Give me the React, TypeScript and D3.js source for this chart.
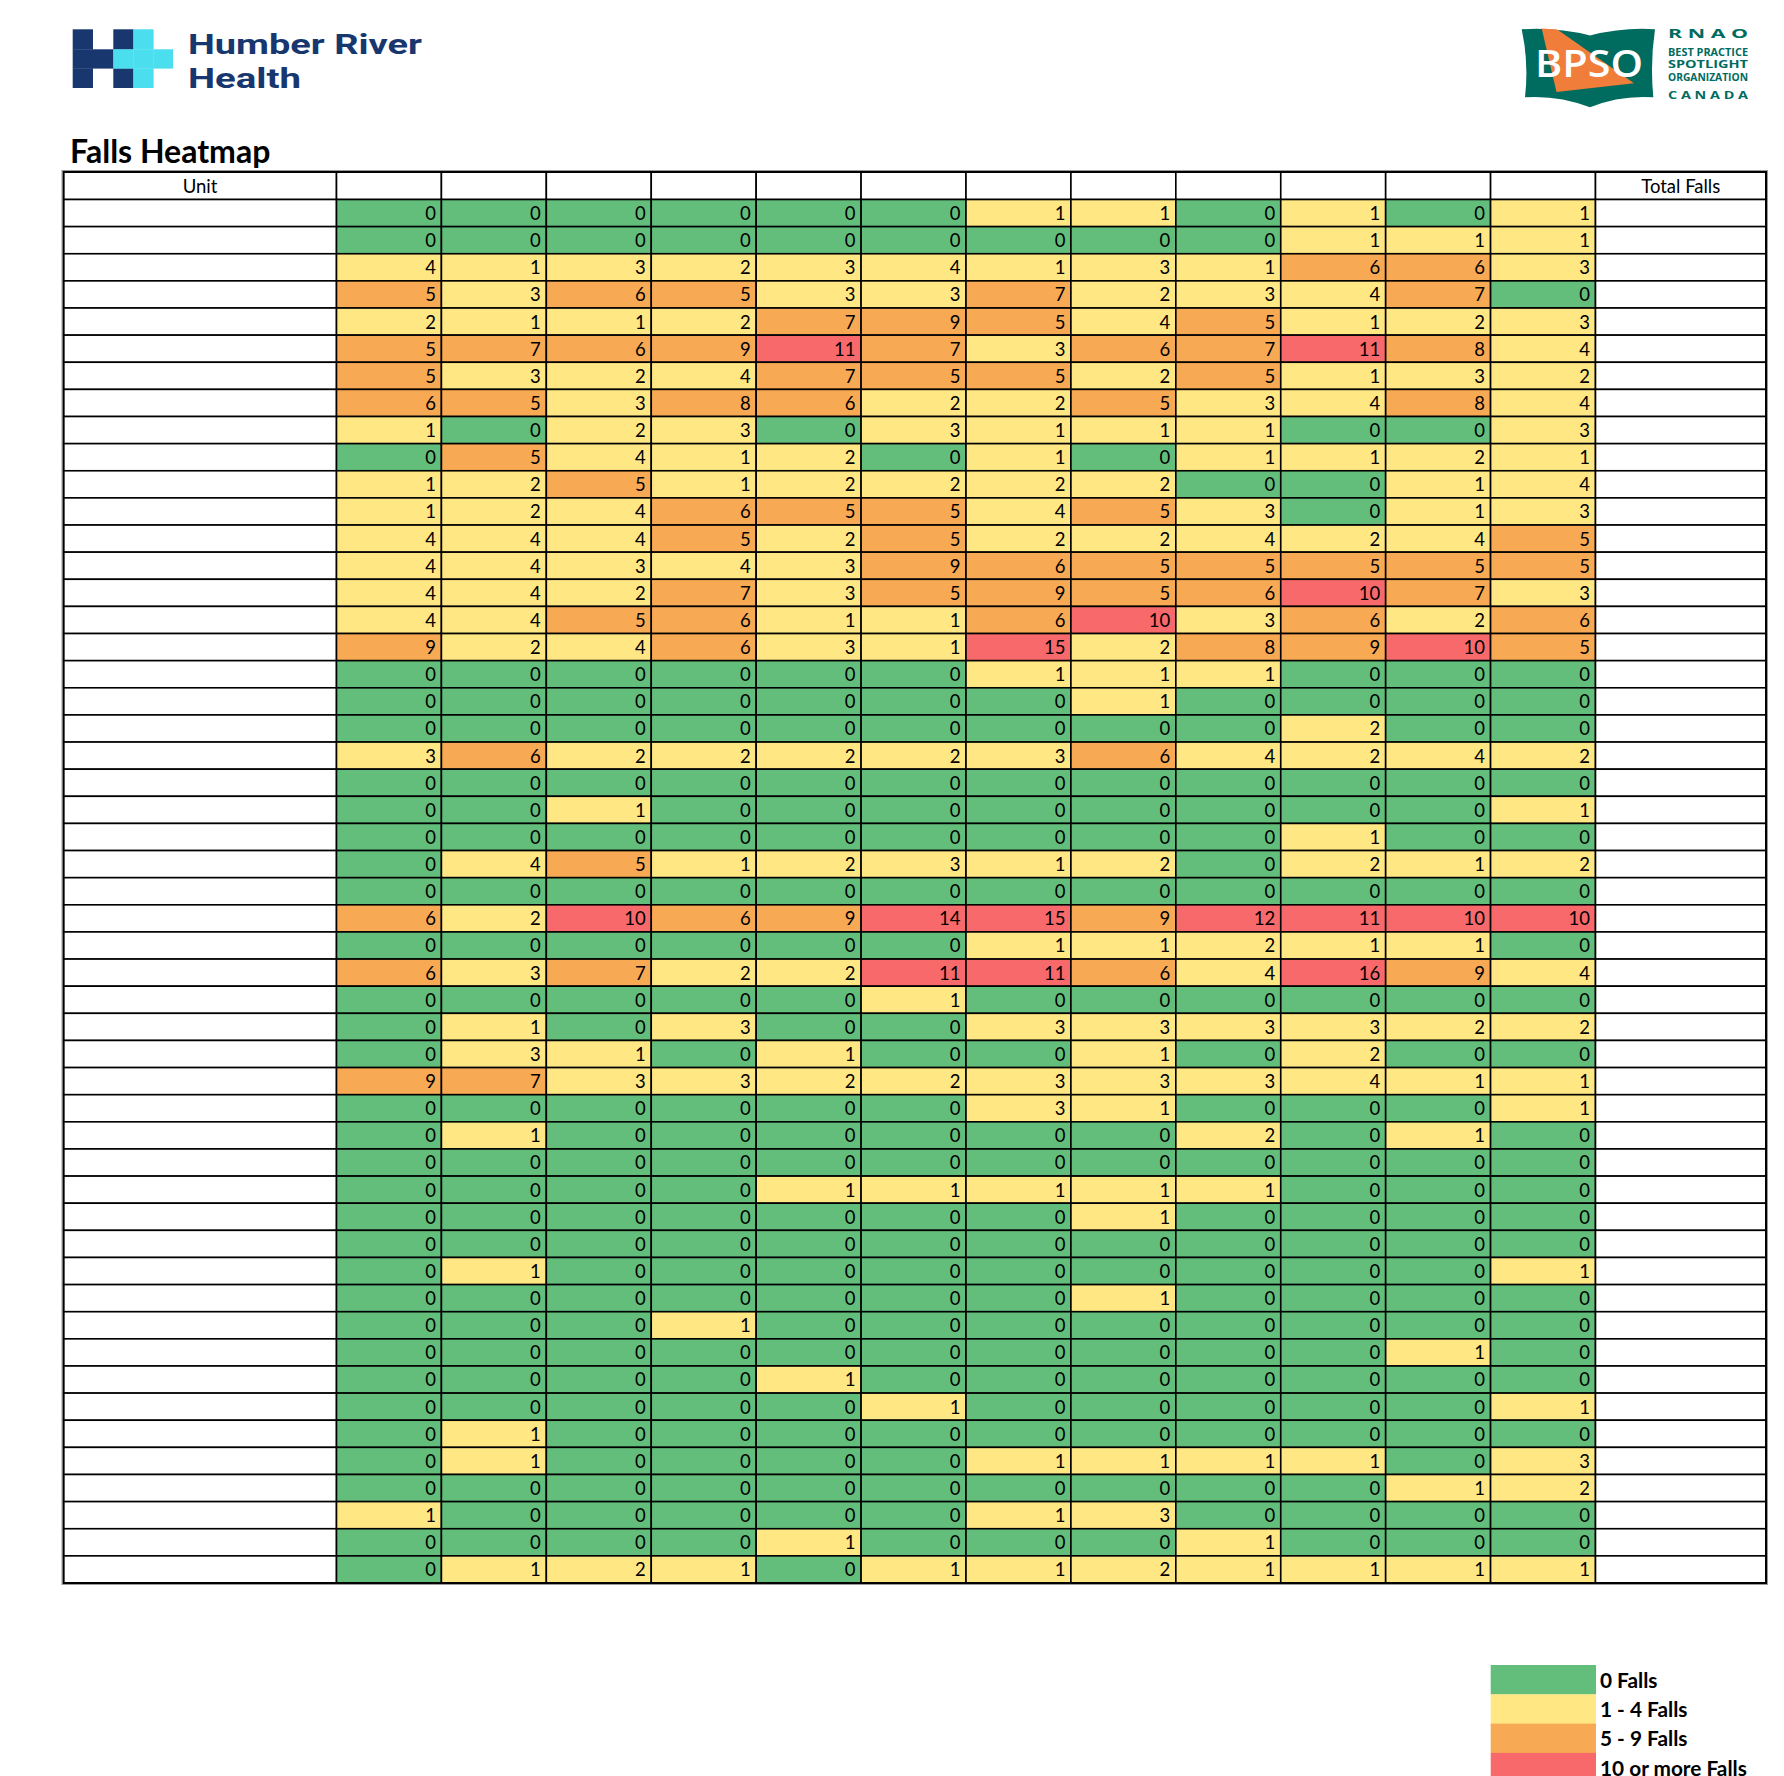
import React, { useEffect } from "react";
import * as d3 from "d3";

// ---------- data ----------
const monthLabels: string[] = ["", "", "", "", "", "", "", "", "", "", "", ""];
const unitHeader = "Unit";
const totalHeader = "Total Falls";

const fallsByUnit: number[][] = [
  [0, 0, 0, 0, 0, 0, 1, 1, 0, 1, 0, 1],
  [0, 0, 0, 0, 0, 0, 0, 0, 0, 1, 1, 1],
  [4, 1, 3, 2, 3, 4, 1, 3, 1, 6, 6, 3],
  [5, 3, 6, 5, 3, 3, 7, 2, 3, 4, 7, 0],
  [2, 1, 1, 2, 7, 9, 5, 4, 5, 1, 2, 3],
  [5, 7, 6, 9, 11, 7, 3, 6, 7, 11, 8, 4],
  [5, 3, 2, 4, 7, 5, 5, 2, 5, 1, 3, 2],
  [6, 5, 3, 8, 6, 2, 2, 5, 3, 4, 8, 4],
  [1, 0, 2, 3, 0, 3, 1, 1, 1, 0, 0, 3],
  [0, 5, 4, 1, 2, 0, 1, 0, 1, 1, 2, 1],
  [1, 2, 5, 1, 2, 2, 2, 2, 0, 0, 1, 4],
  [1, 2, 4, 6, 5, 5, 4, 5, 3, 0, 1, 3],
  [4, 4, 4, 5, 2, 5, 2, 2, 4, 2, 4, 5],
  [4, 4, 3, 4, 3, 9, 6, 5, 5, 5, 5, 5],
  [4, 4, 2, 7, 3, 5, 9, 5, 6, 10, 7, 3],
  [4, 4, 5, 6, 1, 1, 6, 10, 3, 6, 2, 6],
  [9, 2, 4, 6, 3, 1, 15, 2, 8, 9, 10, 5],
  [0, 0, 0, 0, 0, 0, 1, 1, 1, 0, 0, 0],
  [0, 0, 0, 0, 0, 0, 0, 1, 0, 0, 0, 0],
  [0, 0, 0, 0, 0, 0, 0, 0, 0, 2, 0, 0],
  [3, 6, 2, 2, 2, 2, 3, 6, 4, 2, 4, 2],
  [0, 0, 0, 0, 0, 0, 0, 0, 0, 0, 0, 0],
  [0, 0, 1, 0, 0, 0, 0, 0, 0, 0, 0, 1],
  [0, 0, 0, 0, 0, 0, 0, 0, 0, 1, 0, 0],
  [0, 4, 5, 1, 2, 3, 1, 2, 0, 2, 1, 2],
  [0, 0, 0, 0, 0, 0, 0, 0, 0, 0, 0, 0],
  [6, 2, 10, 6, 9, 14, 15, 9, 12, 11, 10, 10],
  [0, 0, 0, 0, 0, 0, 1, 1, 2, 1, 1, 0],
  [6, 3, 7, 2, 2, 11, 11, 6, 4, 16, 9, 4],
  [0, 0, 0, 0, 0, 1, 0, 0, 0, 0, 0, 0],
  [0, 1, 0, 3, 0, 0, 3, 3, 3, 3, 2, 2],
  [0, 3, 1, 0, 1, 0, 0, 1, 0, 2, 0, 0],
  [9, 7, 3, 3, 2, 2, 3, 3, 3, 4, 1, 1],
  [0, 0, 0, 0, 0, 0, 3, 1, 0, 0, 0, 1],
  [0, 1, 0, 0, 0, 0, 0, 0, 2, 0, 1, 0],
  [0, 0, 0, 0, 0, 0, 0, 0, 0, 0, 0, 0],
  [0, 0, 0, 0, 1, 1, 1, 1, 1, 0, 0, 0],
  [0, 0, 0, 0, 0, 0, 0, 1, 0, 0, 0, 0],
  [0, 0, 0, 0, 0, 0, 0, 0, 0, 0, 0, 0],
  [0, 1, 0, 0, 0, 0, 0, 0, 0, 0, 0, 1],
  [0, 0, 0, 0, 0, 0, 0, 1, 0, 0, 0, 0],
  [0, 0, 0, 1, 0, 0, 0, 0, 0, 0, 0, 0],
  [0, 0, 0, 0, 0, 0, 0, 0, 0, 0, 1, 0],
  [0, 0, 0, 0, 1, 0, 0, 0, 0, 0, 0, 0],
  [0, 0, 0, 0, 0, 1, 0, 0, 0, 0, 0, 1],
  [0, 1, 0, 0, 0, 0, 0, 0, 0, 0, 0, 0],
  [0, 1, 0, 0, 0, 0, 1, 1, 1, 1, 0, 3],
  [0, 0, 0, 0, 0, 0, 0, 0, 0, 0, 1, 2],
  [1, 0, 0, 0, 0, 0, 1, 3, 0, 0, 0, 0],
  [0, 0, 0, 0, 1, 0, 0, 0, 1, 0, 0, 0],
  [0, 1, 2, 1, 0, 1, 1, 2, 1, 1, 1, 1],
];
const unitLabels: string[] = fallsByUnit.map(() => "");

const legendLabels = ["0 Falls", "1 - 4 Falls", "5 - 9 Falls", "10 or more Falls"];
const legendThresholds = [1, 5, 10];
const legendColors = ["#63BE7B", "#FFE784", "#F8A954", "#F8696B"];

// ---------- layout ----------
const W = 1784;
const H = 1776;
const tableLeft = 63.5;
const unitRight = 336.5;
const monthRight = 1595.5;
const tableRight = 1766;
const tableTop = 172;
const headerBottom = 199.5;
const tableBottom = 1583;
const FONT = "Lato, Carlito, Calibri, sans-serif";

export default function App() {
  useEffect(() => {
    document.body.style.margin = "0";
    document.body.style.overflow = "hidden";
  }, []);

  const colIdx = monthLabels.map((_, i) => String(i));
  const x = d3.scaleBand<string>().domain(colIdx).range([unitRight, monthRight]);
  const rowIdx = fallsByUnit.map((_, i) => String(i));
  const y = d3.scaleBand<string>().domain(rowIdx).range([headerBottom, tableBottom]);
  const color = d3.scaleThreshold<number, string>().domain(legendThresholds).range(legendColors);

  const legendY = d3
    .scaleBand<string>()
    .domain(legendLabels)
    .range([1665, 1665 + 29.3 * legendLabels.length]);

  const stroke = "#000";
  const sw = 1.6;

  const navy = "#18376F";
  const cyan = "#4ADEEE";
  const teal = "#006B5F";
  const orange = "#F07D3A";

  // Humber logo grid (cells of the mark)
  const lx = [72.7, 92.7, 113.3, 133.3, 153.3, 172.7];
  const ly = [29.3, 49.3, 68.3, 87.7];
  const logoCells: [number, number, string][] = [
    [0, 0, navy], [0, 1, navy], [0, 2, navy],
    [1, 1, navy],
    [2, 0, navy], [2, 2, navy],
    [2, 1, cyan], [3, 0, cyan], [3, 1, cyan], [3, 2, cyan], [4, 1, cyan],
  ];

  return (
    <svg
      width={W}
      height={H}
      viewBox={`0 0 ${W} ${H}`}
      style={{ position: "absolute", left: 0, top: 0, background: "#fff" }}
    >
      <rect x={0} y={0} width={W} height={H} fill="#fff" />

      {/* Humber River Health logo */}
      <g>
        {logoCells.map(([c, r, f], i) => (
          <rect
            key={i}
            x={lx[c]}
            y={ly[r]}
            width={lx[c + 1] - lx[c] + 0.3}
            height={ly[r + 1] - ly[r] + 0.3}
            fill={f}
          />
        ))}
        <text
          x={188}
          y={54.3}
          fill={navy}
          fontFamily="Roboto, Inter, sans-serif"
          fontWeight={700}
          fontSize={28}
          textLength={234}
          lengthAdjust="spacingAndGlyphs"
        >
          Humber River
        </text>
        <text
          x={188}
          y={87.7}
          fill={navy}
          fontFamily="Roboto, Inter, sans-serif"
          fontWeight={700}
          fontSize={28}
          textLength={113}
          lengthAdjust="spacingAndGlyphs"
        >
          Health
        </text>
      </g>

      {/* BPSO logo */}
      <g>
        <path
          d="M1521.7,29.3 Q1556,27 1590,35.5 Q1624,27 1655,29.3 Q1650,63 1653.3,97.3 Q1620,95 1590,107.3 Q1558,95 1525,97.3 Q1529,63 1521.7,29.3 Z"
          fill={teal}
        />
        <polygon
          points="1541.7,28.5 1557.3,29.5 1634,83.3 1556.5,92"
          fill={orange}
        />
        <text
          x={1535}
          y={77.3}
          fill="#fff"
          fontFamily="'Open Sans', sans-serif"
          fontWeight={600}
          fontSize={38}
          textLength={108}
          lengthAdjust="spacingAndGlyphs"
        >
          BPSO
        </text>
        {[
          ["R N A O", 37.7, 11.5],
          ["BEST PRACTICE", 56, 10],
          ["SPOTLIGHT", 68.3, 10],
          ["ORGANIZATION", 81, 10],
          ["C A N A D A", 99.3, 11],
        ].map(([t, by, fs], i) => (
          <text
            key={i}
            x={1668}
            y={by as number}
            fill={teal}
            fontFamily="'Open Sans', sans-serif"
            fontWeight={700}
            fontSize={fs as number}
            textLength={80}
            lengthAdjust="spacingAndGlyphs"
          >
            {t}
          </text>
        ))}
      </g>

      {/* Title */}
      <text x={70} y={163} fontFamily={FONT} fontWeight={700} fontSize={32} fill="#000">
        Falls Heatmap
      </text>

      {/* Header row */}
      <g>
        <rect x={tableLeft} y={tableTop} width={unitRight - tableLeft} height={headerBottom - tableTop} fill="#fff" stroke={stroke} strokeWidth={sw} />
        <text x={(tableLeft + unitRight) / 2} y={tableTop + 21} textAnchor="middle" fontFamily={FONT} fontSize={18.5} fill="#000">
          {unitHeader}
        </text>
        {colIdx.map((c, i) => (
          <g key={c}>
            <rect x={x(c)} y={tableTop} width={x.bandwidth()} height={headerBottom - tableTop} fill="#fff" stroke={stroke} strokeWidth={sw} />
            <text x={(x(c) as number) + x.bandwidth() / 2} y={tableTop + 21} textAnchor="middle" fontFamily={FONT} fontSize={18.5}>
              {monthLabels[i]}
            </text>
          </g>
        ))}
        <rect x={monthRight} y={tableTop} width={tableRight - monthRight} height={headerBottom - tableTop} fill="#fff" stroke={stroke} strokeWidth={sw} />
        <text x={(monthRight + tableRight) / 2} y={tableTop + 21} textAnchor="middle" fontFamily={FONT} fontSize={18.5} fill="#000">
          {totalHeader}
        </text>
      </g>

      {/* Body rows */}
      <g>
        {fallsByUnit.map((row, r) => {
          const ry = y(String(r)) as number;
          const rh = y.bandwidth();
          return (
            <g key={r}>
              <rect x={tableLeft} y={ry} width={unitRight - tableLeft} height={rh} fill="#fff" stroke={stroke} strokeWidth={sw} />
              <text x={tableLeft + 6} y={ry + 20.5} fontFamily={FONT} fontSize={18.5}>
                {unitLabels[r]}
              </text>
              {row.map((v, c) => {
                const cx = x(String(c)) as number;
                return (
                  <g key={c}>
                    <rect x={cx} y={ry} width={x.bandwidth()} height={rh} fill={color(v)} stroke={stroke} strokeWidth={sw} />
                    <text x={cx + x.bandwidth() - 5.5} y={ry + 20.5} textAnchor="end" fontFamily={FONT} fontSize={18.5} fill="#000">
                      {v}
                    </text>
                  </g>
                );
              })}
              <rect x={monthRight} y={ry} width={tableRight - monthRight} height={rh} fill="#fff" stroke={stroke} strokeWidth={sw} />
            </g>
          );
        })}
        <rect x={tableLeft} y={tableTop} width={tableRight - tableLeft} height={tableBottom - tableTop} fill="none" stroke={stroke} strokeWidth={2} />
        <rect x={tableLeft - 1.5} y={tableTop - 1.5} width={tableRight - tableLeft + 3} height={tableBottom - tableTop + 3} fill="none" stroke="#999" strokeWidth={1} />
      </g>

      {/* Legend */}
      <g>
        {legendLabels.map((l, i) => (
          <g key={l}>
            <rect x={1490.7} y={legendY(l)} width={105.3} height={legendY.bandwidth() + 0.3} fill={legendColors[i]} />
            <text x={1600} y={(legendY(l) as number) + 22.7} fontFamily={FONT} fontWeight={700} fontSize={20.8} fill="#000">
              {l}
            </text>
          </g>
        ))}
      </g>
    </svg>
  );
}
